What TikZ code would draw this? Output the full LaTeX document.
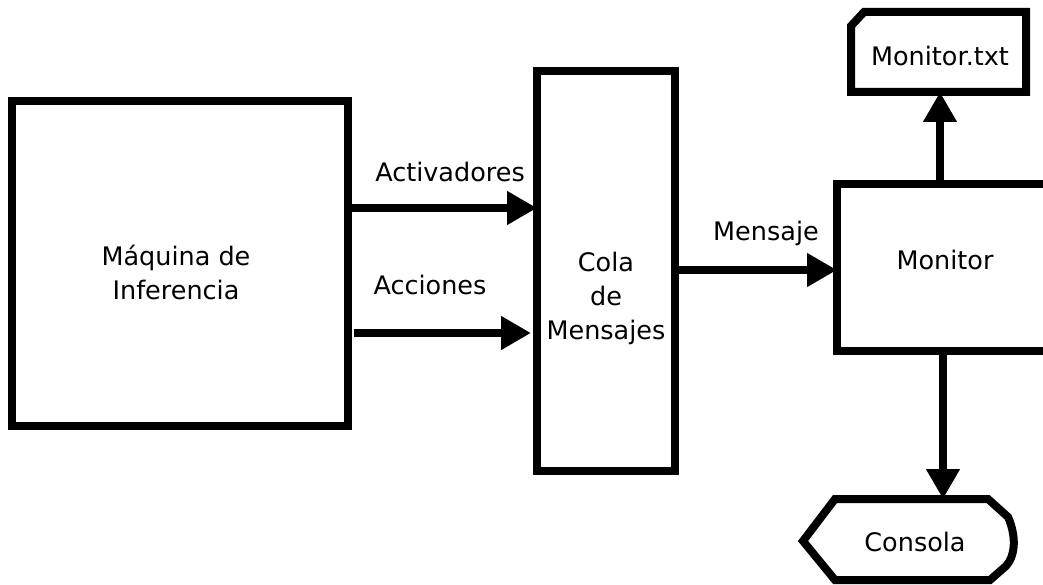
\documentclass[tikz,border=0pt]{standalone}
\usepackage{fontspec}
\setmainfont{DejaVu Sans}
\usetikzlibrary{arrows.meta}
\begin{document}
\begin{tikzpicture}[x=1pt,y=-1pt,
  box/.style={draw, line width=8pt, inner sep=0pt, outer sep=0pt, anchor=north west},
  lbl/.style={font=\fontsize{25.5}{34}\selectfont, align=center, inner sep=0pt},
  shapeline/.style={line width=8pt, line join=miter},
  flow/.style={line width=8pt, -{Triangle[length=30pt,width=32pt]}}]
\useasboundingbox (0,0) rectangle (1043,585);
\clip (0,0) rectangle (1043,585);

% main blocks
\node[box, minimum width=336pt, minimum height=325pt] (maq) at (12,101) {};
\node[box, minimum width=138pt, minimum height=400pt] (cola) at (537,71) {};
\node[box, minimum width=220pt, minimum height=167pt] (mon) at (837,184) {};

\node[lbl] (maqtxt) at (176,272) {Máquina de\\Inferencia};
\node[lbl] (colatxt) at (606,298) {Cola\\de\\Mensajes};
\node[lbl] (montxt) at (945,260) {Monitor};

% output file (card with clipped corner)
\draw[shapeline] (851,26) -- (864,12) -- (1026,12) -- (1026,92) -- (851,92) -- cycle;
\coordinate (fileB) at (940,92);
\node[lbl] (filetxt) at (940,56) {Monitor.txt};

% console (display shape: pointed left, rounded right)
\draw[shapeline] (803,541) -- (835,499) -- (988,499) -- (1008,517)
  .. controls (1016,535) and (1016,555) .. (1006,566) -- (990,580) -- (835,580) -- cycle;
\coordinate (consT) at (943,499);
\node[lbl] (constxt) at (915,542) {Consola};

% connectors
\draw[flow] (maq.east |- 0,208) -- (cola.west |- 0,208);
\draw[flow] ([xshift=6pt]maq.east |- 0,333) -- ([xshift=-6pt]cola.west |- 0,333);
\draw[flow] (cola.east |- 0,270) -- (mon.west |- 0,270);
\draw[flow] (mon.north -| fileB) -- (fileB);
\draw[flow] (mon.south -| consT) -- (consT);

% connector labels
\node[lbl] (l1) at (450,172) {Activadores};
\node[lbl] (l2) at (430,285) {Acciones};
\node[lbl] (l3) at (766,233) {Mensaje};
\end{tikzpicture}
\end{document}
